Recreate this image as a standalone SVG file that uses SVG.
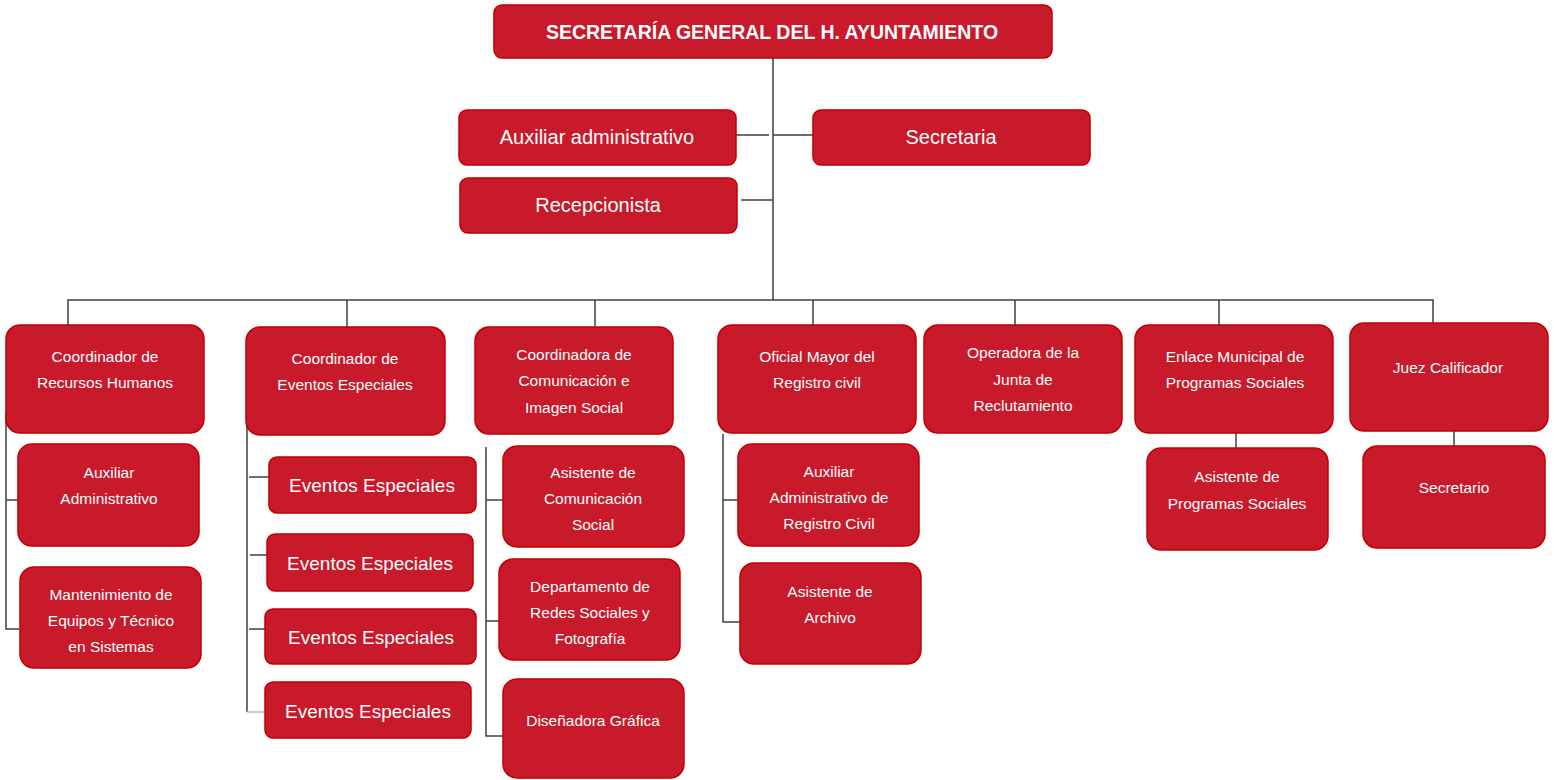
<svg xmlns="http://www.w3.org/2000/svg" width="1554" height="780" viewBox="0 0 1554 780">
<style>
.b{fill:#C81A2B;stroke:#C00000;stroke-width:1.5}
.t{fill:#fff;font-family:"Liberation Sans",Arial,sans-serif;font-size:15.5px;text-anchor:middle}
.tl{fill:#fff;font-family:"Liberation Sans",Arial,sans-serif;font-size:20px;text-anchor:middle}
.te{fill:#fff;font-family:"Liberation Sans",Arial,sans-serif;font-size:19px;text-anchor:middle}
.tt{fill:#fff;font-family:"Liberation Sans",Arial,sans-serif;font-size:19.5px;font-weight:bold;text-anchor:middle}
.c{stroke:#404040;stroke-width:1.5;fill:none}
</style>
<rect width="1554" height="780" fill="#fff"/>
<g id="connectors">
<path class="c" d="M773 58V300M736 135H769M773 135H813M741 200H773"/>
<path class="c" stroke="#595959" d="M68 325V300H1433V325M347 300V327M595 300V326M813 300V327M1015 300V326M1219 300V326"/>
<path class="c" d="M6 411V629H19M6 500H18"/>
<path class="c" d="M247 411V712M249 477H271M250 555H268M249 629H269"/>
<path d="M247 712H268" stroke="#9DC3E6" stroke-width="1.5"/>
<path class="c" d="M486 447V736H503M486 500H503M486 621H499"/>
<path class="c" d="M723 434V622H740M723 500H740"/>
<path class="c" d="M1236 424V448M1454 422V446"/>
</g>
<g id="n-top"><rect class="b" x="494" y="5" width="558" height="53" rx="8"/><text class="tt" x="772" y="39">SECRETARÍA GENERAL DEL H. AYUNTAMIENTO</text></g>
<g id="n-aux"><rect class="b" x="459" y="110" width="277" height="55" rx="8"/><text class="tl" x="597" y="144">Auxiliar administrativo</text></g>
<g id="n-sec"><rect class="b" x="813" y="110" width="277" height="55" rx="8"/><text class="tl" x="951" y="144">Secretaria</text></g>
<g id="n-rec"><rect class="b" x="460" y="178" width="277" height="55" rx="8"/><text class="tl" x="598" y="212">Recepcionista</text></g>

<g id="n-rh"><rect class="b" x="6" y="325" width="198" height="108" rx="14"/><text class="t" x="105" y="362">Coordinador de</text><text class="t" x="105" y="388">Recursos Humanos</text></g>
<g id="n-rh1"><rect class="b" x="18" y="444" width="181" height="102" rx="14"/><text class="t" x="109" y="478">Auxiliar</text><text class="t" x="109" y="504">Administrativo</text></g>
<g id="n-rh2"><rect class="b" x="20" y="567" width="181" height="101" rx="14"/><text class="t" x="111" y="600">Mantenimiento de</text><text class="t" x="111" y="626">Equipos y Técnico</text><text class="t" x="111" y="652">en Sistemas</text></g>

<g id="n-ev"><rect class="b" x="246" y="327" width="199" height="108" rx="14"/><text class="t" x="345" y="364">Coordinador de</text><text class="t" x="345" y="390">Eventos Especiales</text></g>
<g id="n-ev1"><rect class="b" x="269" y="457" width="207" height="56" rx="8"/><text class="te" x="372" y="492">Eventos Especiales</text></g>
<g id="n-ev2"><rect class="b" x="267" y="534" width="206" height="57" rx="8"/><text class="te" x="370" y="570">Eventos Especiales</text></g>
<g id="n-ev3"><rect class="b" x="265" y="609" width="211" height="55" rx="8"/><text class="te" x="371" y="644">Eventos Especiales</text></g>
<g id="n-ev4"><rect class="b" x="265" y="682" width="206" height="56" rx="8"/><text class="te" x="368" y="718">Eventos Especiales</text></g>

<g id="n-com"><rect class="b" x="475" y="327" width="198" height="107" rx="14"/><text class="t" x="574" y="360">Coordinadora de</text><text class="t" x="574" y="386">Comunicación e</text><text class="t" x="574" y="413">Imagen Social</text></g>
<g id="n-com1"><rect class="b" x="503" y="446" width="181" height="101" rx="14"/><text class="t" x="593" y="478">Asistente de</text><text class="t" x="593" y="504">Comunicación</text><text class="t" x="593" y="530">Social</text></g>
<g id="n-com2"><rect class="b" x="499" y="559" width="181" height="101" rx="14"/><text class="t" x="590" y="592">Departamento de</text><text class="t" x="590" y="618">Redes Sociales y</text><text class="t" x="590" y="644">Fotografía</text></g>
<g id="n-com3"><rect class="b" x="503" y="679" width="181" height="99" rx="14"/><text class="t" x="593" y="726">Diseñadora Gráfica</text></g>

<g id="n-ofi"><rect class="b" x="718" y="325" width="198" height="108" rx="14"/><text class="t" x="817" y="362">Oficial Mayor del</text><text class="t" x="817" y="388">Registro civil</text></g>
<g id="n-ofi1"><rect class="b" x="738" y="444" width="181" height="102" rx="14"/><text class="t" x="829" y="477">Auxiliar</text><text class="t" x="829" y="503">Administrativo de</text><text class="t" x="829" y="529">Registro Civil</text></g>
<g id="n-ofi2"><rect class="b" x="740" y="563" width="181" height="101" rx="14"/><text class="t" x="830" y="597">Asistente de</text><text class="t" x="830" y="623">Archivo</text></g>

<g id="n-op"><rect class="b" x="924" y="325" width="198" height="108" rx="14"/><text class="t" x="1023" y="358">Operadora de la</text><text class="t" x="1023" y="385">Junta de</text><text class="t" x="1023" y="411">Reclutamiento</text></g>

<g id="n-enl"><rect class="b" x="1135" y="325" width="198" height="108" rx="14"/><text class="t" x="1235" y="362">Enlace Municipal de</text><text class="t" x="1235" y="388">Programas Sociales</text></g>
<g id="n-enl1"><rect class="b" x="1147" y="448" width="181" height="102" rx="14"/><text class="t" x="1237" y="482">Asistente de</text><text class="t" x="1237" y="509">Programas Sociales</text></g>

<g id="n-juez"><rect class="b" x="1350" y="323" width="198" height="108" rx="14"/><text class="t" x="1448" y="373">Juez Calificador</text></g>
<g id="n-juez1"><rect class="b" x="1363" y="446" width="182" height="102" rx="14"/><text class="t" x="1454" y="493">Secretario</text></g>
</svg>
